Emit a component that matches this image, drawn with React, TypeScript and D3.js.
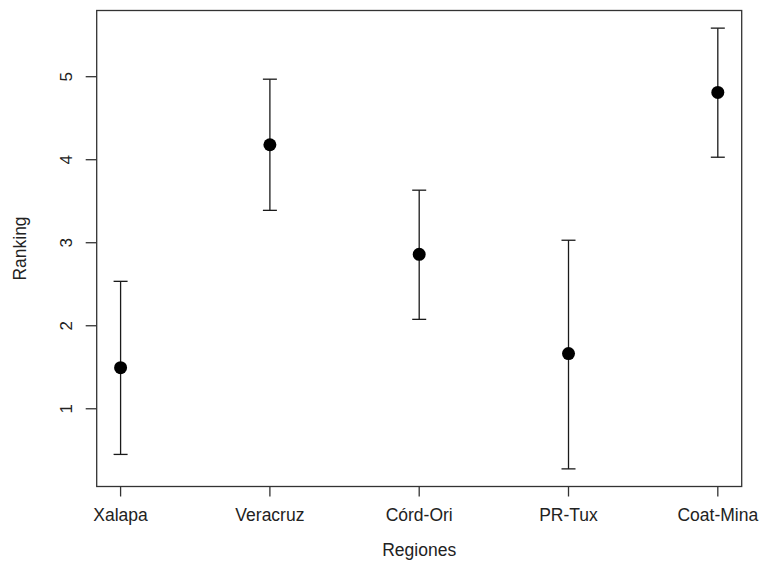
import React from "react";
import * as d3 from "d3";

const regions = ["Xalapa", "Veracruz", "Córd-Ori", "PR-Tux", "Coat-Mina"];
const means = [1.495, 4.18, 2.86, 1.665, 4.81];
const lower = [0.45, 3.39, 2.077, 0.276, 4.03];
const upper = [2.535, 4.97, 3.633, 3.03, 5.585];
const yTicks = [1, 2, 3, 4, 5];

const W = 761;
const H = 562;
const L = 96.7, R = 741.7, T = 10.5, B = 486.5;
const FONT = "'Liberation Sans', Arial, sans-serif";

export default function App() {
  const lo = d3.min(lower)!;
  const hi = d3.max(upper)!;
  const pad = (hi - lo) * 0.04;
  const x = d3.scaleLinear().domain([0.84, 5.16]).range([L, R]);
  const y = d3.scaleLinear().domain([lo - pad, hi + pad]).range([B, T]);
  const ink = "#1a1a1a";
  const cap = 7;
  return (
    <svg width={W} height={H} style={{ position: "absolute", left: 0, top: 0, background: "#fff" }}>
      <rect x={L} y={T} width={R - L} height={B - T} fill="none" stroke="#333" strokeWidth={1.3} />
      {yTicks.map((t) => (
        <g key={t}>
          <line x1={L - 11} x2={L} y1={y(t)} y2={y(t)} stroke="#333" strokeWidth={1.3} />
          <text
            transform={`translate(${L - 25},${y(t)}) rotate(-90)`}
            textAnchor="middle"
            fontFamily={FONT}
            fontSize={17}
            fill="#222"
          >
            {t}
          </text>
        </g>
      ))}
      {regions.map((r, i) => (
        <g key={r}>
          <line x1={x(i + 1)} x2={x(i + 1)} y1={B} y2={B + 10} stroke="#333" strokeWidth={1.3} />
          <text x={x(i + 1)} y={521} textAnchor="middle" fontFamily={FONT} fontSize={17.5} fill="#222">
            {r}
          </text>
          <line x1={x(i + 1)} x2={x(i + 1)} y1={y(lower[i])} y2={y(upper[i])} stroke={ink} strokeWidth={1.3} />
          <line x1={x(i + 1) - cap} x2={x(i + 1) + cap} y1={y(lower[i])} y2={y(lower[i])} stroke={ink} strokeWidth={1.3} />
          <line x1={x(i + 1) - cap} x2={x(i + 1) + cap} y1={y(upper[i])} y2={y(upper[i])} stroke={ink} strokeWidth={1.3} />
          <circle cx={x(i + 1)} cy={y(means[i])} r={6.5} fill="#000" />
        </g>
      ))}
      <text x={(L + R) / 2} y={556} textAnchor="middle" fontFamily={FONT} fontSize={17.5} fill="#222">
        Regiones
      </text>
      <text
        transform={`translate(26,${(T + B) / 2}) rotate(-90)`}
        textAnchor="middle"
        fontFamily={FONT}
        fontSize={17.5}
        fill="#222"
      >
        Ranking
      </text>
    </svg>
  );
}
